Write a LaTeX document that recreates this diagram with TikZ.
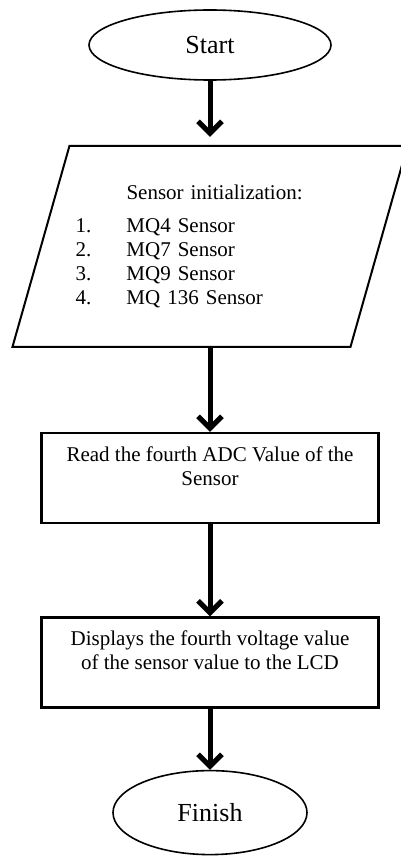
\documentclass[tikz,border=0pt]{standalone}
\usepackage{fontspec}
\setmainfont{Liberation Serif}
\usepackage{tikz}
\usetikzlibrary{arrows.meta, positioning, shapes.geometric}

\begin{document}
\begin{tikzpicture}[
    node distance=64pt,
    every node/.style={font=\fontsize{21}{24}\selectfont},
    term/.style 2 args={draw, ellipse, line width=1.6pt, minimum width=#1, minimum height=#2, inner sep=0pt,
      font=\fontsize{26}{30}\selectfont},
    io/.style={minimum width=281pt, minimum height=201pt, text width=269pt, inner xsep=6pt, outer sep=0pt, align=left},
    ioline/.style={draw, line width=2pt},
    proc/.style={draw, line width=2.5pt, minimum width=337pt, minimum height=90pt, align=center, inner sep=2pt},
    arr/.style={-{Straight Barb[length=12pt, width=24pt]}, line width=5pt}
]
\useasboundingbox (0,0) rectangle (401pt,-856pt);
\node[term={242pt}{70pt}] (start) at (210pt,-45pt) {Start};
\node[io, below=65pt of start] (init)
  {\hspace*{51pt}Sensor initialization:\\[9pt]
   \makebox[51pt][l]{1.}MQ4 Sensor\\
   \makebox[51pt][l]{2.}MQ7 Sensor\\
   \makebox[51pt][l]{3.}MQ9 Sensor\\
   \makebox[51pt][l]{4.}MQ 136 Sensor};
% parallelogram round the input node
\draw[ioline] ([xshift=-57pt]init.south west) -- (init.north west)
  -- ([xshift=57pt]init.north east) -- (init.south east) -- cycle;
\node[proc, below=85pt of init] (read) {Read the fourth ADC Value of the\\Sensor\\~};
\node[proc, below=92pt of read] (disp) {Displays the fourth voltage value\\of the sensor value to the LCD\\~};
\node[term={194pt}{84pt}, below=61pt of disp] (finish) {Finish};

\draw[arr, shorten >=9pt] (start) -- (init);
\draw[arr] (init) -- (read);
\draw[arr] (read) -- (disp);
\draw[arr] (disp) -- (finish);
\end{tikzpicture}
\end{document}
